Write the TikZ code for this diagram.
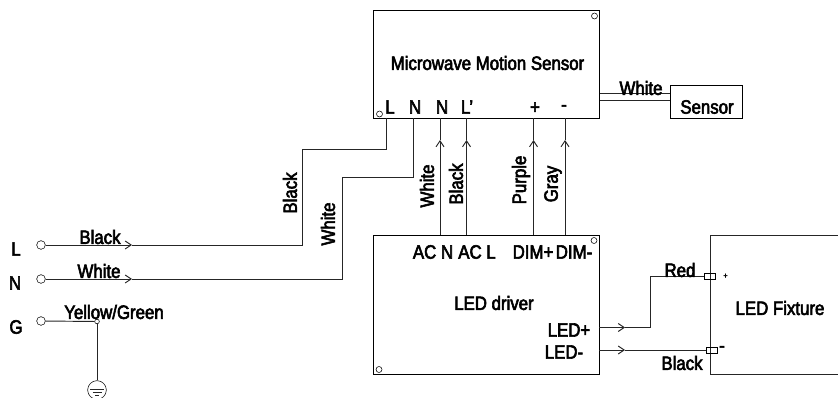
\documentclass[tikz,border=0pt]{standalone}
\usepackage{fontspec}
\setmainfont[FakeStretch=0.87,RawFeature={embolden=3}]{Liberation Sans}
\usetikzlibrary{arrows.meta}
\begin{document}
\begin{tikzpicture}[x=0.75pt,y=-0.75pt]
\tikzstyle{box}=[draw,shape=rectangle,inner sep=0pt]
\tikzstyle{term}=[draw,shape=circle,inner sep=0pt,minimum size=6.5pt]
\tikzstyle{cornermark}=[draw,shape=circle,inner sep=0pt,minimum size=4.5pt]
\tikzstyle{lug}=[draw,shape=rectangle,inner sep=0pt,minimum width=8.5pt,minimum height=4.5pt]
\tikzstyle{txt}=[inner sep=0pt,font=\fontsize{14.5}{15}\selectfont]
\tikzstyle{wire}=[line width=0.7pt,black!85]
\tikzstyle{flow}=[wire,-{Straight Barb[length=4.5pt,width=6pt]}]
\useasboundingbox (0,0) rectangle (838,398);
% boxes
\node[box,minimum width=169.5pt,minimum height=81pt] at (486.5,64) (motion) {};
\node[box,minimum width=169.5pt,minimum height=104pt] at (486.5,304.5) (driver) {};
\node[box,minimum width=54pt,minimum height=24.5pt] at (706,101.5) (sensor) {};
\coordinate (fixTR) at (838,235);
\coordinate (fixTL) at (710.5,235);
\coordinate (fixBL) at (710.5,374.5);
\coordinate (fixBR) at (838,374.5);
\draw[wire] (fixTR) -- (fixTL) -- (fixBL) -- (fixBR);
\node[txt] at (487.5,63) (motionname) {Microwave Motion Sensor};
\node[txt] at (494,303) (drivername) {LED driver};
\node[txt] at (780,308) (fixturename) {LED Fixture};
\node[txt] at (707,107) (sensorname) {Sensor};
% corner marks
\node[cornermark] at (594.5,16) (m1) {};
\node[cornermark] at (379.5,114) (m2) {};
\node[cornermark] at (594,240.5) (m3) {};
\node[cornermark] at (379,369.5) (m4) {};
% pin labels
\node[txt] at (390,107) (pinL) {L};
\node[txt] at (415,107) (pinN) {N};
\node[txt] at (442,107) (pinNN) {N};
\node[txt] at (467,107) (pinLL) {L'};
\node[txt] at (535,108) (pinplus) {+};
\node[txt] at (564,108) (pinminus) {-};
\node[txt] at (433,252) (acn) {AC N};
\node[txt] at (477,252) (acl) {AC L};
\node[txt] at (533,252) (dimplus) {DIM+};
\node[txt] at (574,252) (dimminus) {DIM-};
\node[txt] at (569,330) (ledplus) {LED+};
\node[txt] at (564,352) (ledminus) {LED-};
% mains side
\node[term] at (41,245) (inL) {};
\node[term] at (41,279) (inN) {};
\node[term] at (41,321) (inG) {};
\node[txt] at (16,249) (nameL) {L};
\node[txt] at (15,283) (nameN) {N};
\node[txt] at (16,327) (nameG) {G};
\coordinate (tipL) at (132,245);
\coordinate (tipN) at (132,279);
\coordinate (turnLa) at (302,245);
\coordinate (turnLb) at (302,149);
\coordinate (turnLc) at (386.5,149);
\coordinate (endL) at (386.5,118);
\coordinate (turnNa) at (342,279);
\coordinate (turnNb) at (342,177);
\coordinate (turnNc) at (413,177);
\coordinate (endN) at (413,118);
\draw[flow] (inL) -- (tipL);
\draw[flow] (inN) -- (tipN);
\draw[wire] (tipL) -- (turnLa) -- (turnLb) -- (turnLc) -- (endL);
\draw[wire] (tipN) -- (turnNa) -- (turnNb) -- (turnNc) -- (endN);
\node[txt] at (100,237) (blackL) {Black};
\node[txt] at (99,271) (whiteN) {White};
\node[txt] at (114,312) (yg) {Yellow/Green};
\node[txt,rotate=90] at (290,193) (blackup) {Black};
\node[txt,rotate=90] at (328,224) (whiteup) {White};
% ground
\node[cornermark,minimum size=3.5pt] at (97,321.5) (gnd) {};
\node[draw,shape=circle,inner sep=0pt,minimum size=14pt] at (97,390) (earth) {};
\draw[wire] (inG) -- (gnd);
\draw[wire] (gnd) -- (earth);
\coordinate (e1a) at (90,389);
\coordinate (e1b) at (104,389);
\coordinate (e2a) at (92.5,392);
\coordinate (e2b) at (101.5,392);
\coordinate (e3a) at (95,395);
\coordinate (e3b) at (99,395);
\draw[wire] (e1a) -- (e1b);
\draw[wire] (e2a) -- (e2b);
\draw[wire] (e3a) -- (e3b);
% driver to motion sensor
\coordinate (d1) at (440,235);
\coordinate (d2) at (466.5,235);
\coordinate (d3) at (533.5,235);
\coordinate (d4) at (565,235);
\coordinate (t1) at (440,140);
\coordinate (t2) at (466.5,140);
\coordinate (t3) at (533.5,140);
\coordinate (t4) at (565,140);
\coordinate (s1) at (440,118);
\coordinate (s2) at (466.5,118);
\coordinate (s3) at (533.5,118);
\coordinate (s4) at (565,118);
\draw[flow] (d1) -- (t1);
\draw[flow] (d2) -- (t2);
\draw[flow] (d3) -- (t3);
\draw[flow] (d4) -- (t4);
\draw[wire] (t1) -- (s1);
\draw[wire] (t2) -- (s2);
\draw[wire] (t3) -- (s3);
\draw[wire] (t4) -- (s4);
\node[txt,rotate=90] at (427,186) (w1) {White};
\node[txt,rotate=90] at (456,184) (w2) {Black};
\node[txt,rotate=90] at (521,180) (w3) {Purple};
\node[txt,rotate=90] at (553,184) (w4) {Gray};
% sensor lead
\coordinate (a1) at (600,93);
\coordinate (a2) at (670,93);
\coordinate (b1) at (600,100);
\coordinate (b2) at (670,100);
\draw[wire] (a1) -- (a2);
\draw[wire] (b1) -- (b2);
\node[txt] at (641,88) (whitesensor) {White};
% driver to fixture
\node[lug] at (710,276) (lugplus) {};
\node[lug] at (711.5,350) (lugminus) {};
\coordinate (o1) at (599,327.5);
\coordinate (o2) at (599,350);
\coordinate (u1) at (625,327.5);
\coordinate (u2) at (625,350);
\coordinate (r1) at (650,327.5);
\coordinate (r2) at (650,276);
\draw[flow] (o1) -- (u1);
\draw[flow] (o2) -- (u2);
\draw[wire] (u1) -- (r1) -- (r2) -- (lugplus);
\draw[wire] (u2) -- (lugminus);
\node[txt] at (680,270) (redlabel) {Red};
\node[txt] at (682,363) (blacklabel) {Black};
\node[inner sep=0pt,font=\fontsize{6}{6}\selectfont] at (725.5,276) (fixplus) {+};
\node[txt] at (722,349) (fixminus) {-};
\end{tikzpicture}
\end{document}
